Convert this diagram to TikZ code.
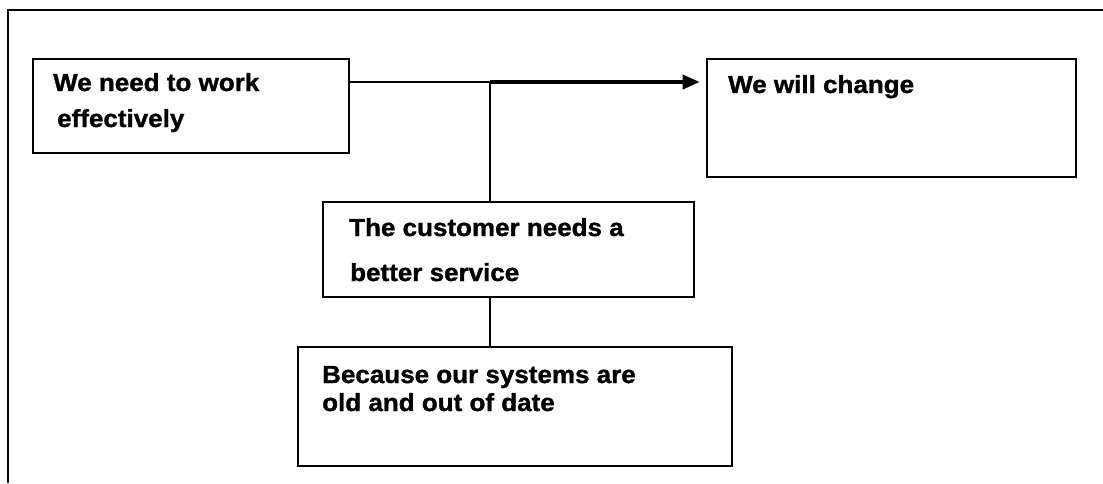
\documentclass[tikz,border=0pt]{standalone}
\usepackage{fontspec}
\usepackage{graphicx}
\setmainfont{Liberation Sans}[BoldFeatures={FakeBold=1.2}]
\usetikzlibrary{arrows.meta}
\tikzset{
  box/.style={draw=black, line width=2.6pt, rectangle, inner sep=0pt},
  txt/.style={anchor=base west, inner sep=0pt, font=\fontsize{26}{30}\selectfont\bfseries},
  conn/.style={draw=black, line width=2.6pt},
  frame/.style={draw=black, line width=2.4pt},
}
\newcommand{\sq}[1]{\scalebox{1}[0.95]{#1}}
\begin{document}
\begin{tikzpicture}[x=1pt,y=-1pt]
\useasboundingbox (0,0) rectangle (1103,483);
% outer frame (top and left only)
\coordinate (fa) at (1103,10);
\coordinate (fb) at (8,10);
\coordinate (fc) at (8,483);
\draw[frame] (fa) -- (fb) -- (fc);
% boxes
\node[box, minimum width=316pt, minimum height=94pt] (b1) at (191,106) {};
\node[box, minimum width=369pt, minimum height=118pt] (b2) at (891.5,118) {};
\node[box, minimum width=371pt, minimum height=95pt] (b3) at (508.5,249.5) {};
\node[box, minimum width=434pt, minimum height=119pt] (b4) at (515,406.5) {};
% texts
\node[txt] (t1a) at (53,91) {\sq{We need to work}};
\node[txt] (t1b) at (57,127) {\sq{effectively}};
\node[txt] (t2a) at (728,93) {\sq{We will change}};
\node[txt] (t3a) at (349,236) {\sq{The customer needs a}};
\node[txt] (t3b) at (350,281) {\sq{better service}};
\node[txt] (t4a) at (322,383) {\sq{Because our systems are}};
\node[txt] (t4b) at (322,411) {\sq{old and out of date}};
% connectors
\coordinate (j) at (490,82);
\draw[conn] (b1.east |- j) -- (j);
\draw[conn, line width=3.6pt, -{Triangle[length=17pt,width=14pt]}, shorten >=6pt] (j) -- (b2.west |- j);
\draw[conn] (j) -- (b3.north -| j);
\draw[conn] (b3.south -| j) -- (b4.north -| j);
\end{tikzpicture}
\end{document}
